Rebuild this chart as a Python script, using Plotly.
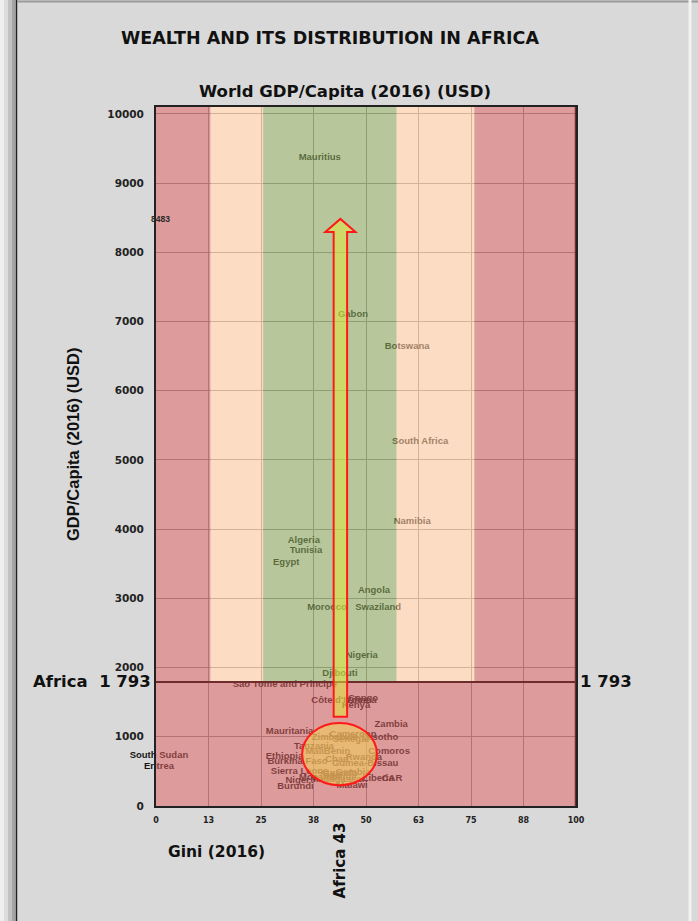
import plotly.graph_objects as go

# ---------------- data ----------------
countries = ["Mauritius", "Gabon", "Botswana", "South Africa", "Namibia", "Algeria", "Tunisia",
             "Egypt", "Angola", "Morocco", "Swaziland", "Nigeria", "Djibouti",
             "Sao Tome and Principe", "Côte d'Ivoire", "Ghana", "Congo", "Kenya",
             "Zambia", "Lesotho", "Mauritania", "Cameroon", "Zimbabwe", "Senegal", "Tanzania",
             "Mali", "Benin", "Ethiopia", "Burkina Faso", "Chad", "Rwanda", "Comoros",
             "Guinea-Bissau", "Sierra Leone", "Gambia", "Togo", "Uganda", "Mozambique",
             "Madagascar", "Niger", "Burundi", "Malawi", "Liberia", "CAR",
             "South Sudan", "Eritrea"]
gini = [39.0, 46.9, 59.8, 62.9, 61.0, 35.2, 35.7,
        31.0, 51.9, 40.7, 52.9, 49.0, 43.8,
        30.7, 43.8, 49.0, 49.3, 47.6,
        56.0, 53.3, 31.8, 46.9, 42.6, 46.4, 37.6,
        37.8, 43.1, 30.6, 33.7, 43.1, 49.5, 55.5,
        49.8, 34.2, 46.9, 41.4, 43.8, 40.9,
        43.3, 33.7, 33.2, 46.7, 52.9, 56.2,
        0.7, 0.7]
gdp = [9364, 7095, 6633, 5260, 4104, 3829, 3685,
       3512, 3107, 2861, 2861, 2168, 1908,
       1749, 1517, 1517, 1546, 1445,
       1171, 983, 1069, 1026, 983, 954, 853,
       780, 780, 708, 636, 665, 694, 780,
       607, 491, 477, 434, 462, 405,
       376, 361, 275, 289, 390, 390,
       723, 564]

x_tick_vals = [0, 12.5, 25, 37.5, 50, 62.5, 75, 87.5, 100]
x_tick_text = ["0", "13", "25", "38", "50", "63", "75", "88", "100"]
y_tick_vals = [0, 1000, 2000, 3000, 4000, 5000, 6000, 7000, 8000, 9000, 10000]
y_tick_text = ["0", "1000", "2000", "3000", "4000", "5000", "6000", "7000", "8000", "9000", "10000"]

africa_gini = 43
africa_gdp = 1793
world_top = 8483          # arrow target / label
arrow_base = 1290
band_edges = [0, 13, 25.5, 57.3, 75.8, 100]
cluster_x = [34.8, 52.6]
cluster_y = [300, 1200]

# ---------------- layout geometry ----------------
W, H = 698, 921
ML, MR, MT, MB = 156, 122, 107, 115
PW = W - ML - MR
PH = H - MT - MB
Y_TOP = 10100


def pxx(px):
    return (px - ML) / PW


def pxy(py):
    return (H - MB - py) / PH


RED = "rgb(198,88,88)"
PEACH = "rgb(250,197,155)"
GREEN = "rgb(135,162,88)"
band_colors = [RED, PEACH, GREEN, PEACH, RED]
BAND_OP = 0.6
DARKRED = "#6e2c2c"
FONT = "Liberation Sans"
WIDE = "DejaVu Sans"

fig = go.Figure()
fig.add_trace(go.Scatter(
    x=gini, y=gdp, mode="text", text=countries,
    textposition="middle center",
    textfont=dict(family=FONT, size=9.5, color="#151515", weight="bold"),
    cliponaxis=False, hoverinfo="skip", showlegend=False))

shapes = []
# frame decoration
for x0, x1, c in [(0, 4, "#efefef"), (4, 8, "#dcdcdc"), (8, 12, "#c2c2c2"), (12, 15.5, "#a4a4a4")]:
    shapes.append(dict(type="rect", xref="paper", yref="paper", x0=pxx(x0), x1=pxx(x1),
                       y0=pxy(H), y1=pxy(0), fillcolor=c, line_width=0, layer="below"))
shapes.append(dict(type="line", xref="paper", yref="paper", x0=pxx(16.5), x1=pxx(16.5),
                   y0=pxy(H), y1=pxy(0), line=dict(color="#222", width=1.5), layer="below"))
shapes.append(dict(type="line", xref="paper", yref="paper", x0=pxx(17), x1=pxx(W),
                   y0=pxy(1.5), y1=pxy(1.5), line=dict(color="#9a9a9a", width=2), layer="below"))
shapes.append(dict(type="line", xref="paper", yref="paper", x0=pxx(690), x1=pxx(690),
                   y0=pxy(H), y1=pxy(0), line=dict(color="#f2f2f2", width=3), layer="below"))

# bands above africa average
for i, c in enumerate(band_colors):
    shapes.append(dict(type="rect", xref="x", yref="y", x0=band_edges[i], x1=band_edges[i + 1],
                       y0=africa_gdp, y1=Y_TOP, fillcolor=c, opacity=BAND_OP,
                       line_width=0, layer="above"))
# below average: all red
shapes.append(dict(type="rect", xref="x", yref="y", x0=band_edges[0], x1=band_edges[-1],
                   y0=0, y1=africa_gdp, fillcolor=RED, opacity=BAND_OP,
                   line_width=0, layer="above"))
# africa average line
shapes.append(dict(type="line", xref="x", yref="y", x0=0, x1=100.6, y0=africa_gdp, y1=africa_gdp,
                   line=dict(color=DARKRED, width=2), layer="above"))
# right edge
shapes.append(dict(type="line", xref="x", yref="y", x0=100, x1=100, y0=0, y1=Y_TOP,
                   line=dict(color=DARKRED, width=2.5), layer="above"))

# ellipse around the cluster
shapes.append(dict(type="circle", xref="x", yref="y", x0=cluster_x[0], x1=cluster_x[1],
                   y0=cluster_y[0], y1=cluster_y[1], fillcolor="rgba(240,205,90,0.6)",
                   line=dict(color="#ff1a1a", width=2), layer="above"))

# arrow
ax = 43.9
sw, hw, hh = 1.6, 3.6, 190
path = (f"M {ax - sw},{arrow_base} L {ax + sw},{arrow_base} L {ax + sw},{world_top - hh} "
        f"L {ax + hw},{world_top - hh} L {ax},{world_top} L {ax - hw},{world_top - hh} "
        f"L {ax - sw},{world_top - hh} Z")
shapes.append(dict(type="path", xref="x", yref="y", path=path,
                   fillcolor="rgba(225,232,60,0.55)", line=dict(color="#ff1a1a", width=2),
                   layer="above"))


def ann(text, x, y, size, xref="paper", yref="paper", family=WIDE, angle=0, xanchor="center",
        color="#111", weight="bold"):
    return dict(text=text, x=x, y=y, xref=xref, yref=yref, showarrow=False, textangle=angle,
                xanchor=xanchor, yanchor="middle",
                font=dict(family=family, size=size, color=color, weight=weight))


annotations = [
    ann("WEALTH AND ITS DISTRIBUTION IN AFRICA", pxx(330), pxy(38), 17.5),
    ann("World GDP/Capita (2016) (USD)", pxx(345), pxy(91), 16.5),
    ann("GDP/Capita (2016) (USD)", pxx(73), pxy(445), 16.5, family=FONT, angle=-90),
    ann("Africa  1 793", pxx(153), africa_gdp, 16.5, yref="y", xanchor="right"),
    ann("1 793", pxx(578), africa_gdp, 16.5, yref="y", xanchor="left"),
    ann("Gini (2016)", pxx(216), pxy(852), 15.5),
    ann(f"Africa {africa_gini}", ax, pxy(860), 15, xref="x", angle=-90),
    ann(str(world_top), 1, world_top, 8.5, xref="x", yref="y", family=FONT, color="#2a2a2a"),
]

fig.update_layout(
    width=W, height=H, margin=dict(l=ML, r=MR, t=MT, b=MB, autoexpand=False),
    paper_bgcolor="#d9d9d9", plot_bgcolor="#ffffff",
    shapes=shapes, annotations=annotations, showlegend=False,
    xaxis=dict(range=[0, 100], tickvals=x_tick_vals, ticktext=x_tick_text,
               showgrid=True, gridcolor="#9a9a9a", gridwidth=1, zeroline=False,
               showline=True, linecolor="#222", linewidth=2, mirror=True,
               ticks="outside", ticklen=5, tickcolor="rgba(0,0,0,0)",
               tickfont=dict(family=WIDE, size=8, color="#222", weight="bold")),
    yaxis=dict(range=[0, Y_TOP], tickvals=y_tick_vals, ticktext=y_tick_text,
               showgrid=True, gridcolor="#9a9a9a", gridwidth=1, zeroline=False,
               showline=True, linecolor="#222", linewidth=2, mirror=True,
               ticks="outside", ticklen=8, tickcolor="rgba(0,0,0,0)",
               tickfont=dict(family=WIDE, size=10.5, color="#222", weight="bold")),
)

fig.write_html("out.html", config={"displayModeBar": False},
               post_script="document.body.style.margin='0px';")
